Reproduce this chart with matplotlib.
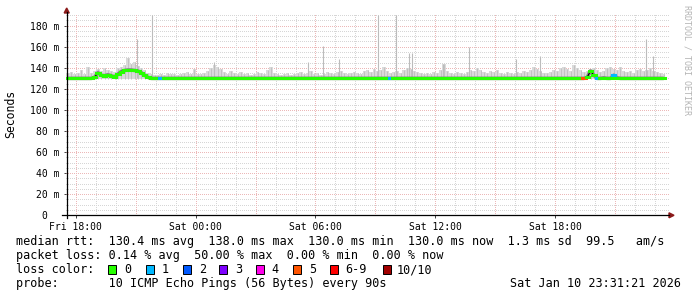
import datetime as dt
import matplotlib
matplotlib.use('Agg')
import matplotlib.pyplot as plt
import matplotlib.dates as mdates
from matplotlib.lines import Line2D
from matplotlib.patches import Polygon, Rectangle

# ---------------- data ----------------
start = dt.datetime(2026, 1, 9, 17, 31, 21)
end = dt.datetime(2026, 1, 10, 23, 31, 21)
step_minutes = 10

median_ms = [
    130.0, 130.0, 130.0, 130.0, 130.0, 130.0, 130.0, 130.0, 131.0, 135.5, 133.0, 132.5,
    133.5, 132.5, 131.5, 134.0, 136.5, 137.5, 138.0, 138.0, 137.5, 137.0, 135.5, 133.0,
    131.0, 130.0, 130.0, 130.0, 130.0, 130.0, 130.0, 130.0, 130.0, 130.0, 130.0, 130.0,
    130.0, 130.0, 130.0, 130.0, 130.0, 130.0, 130.0, 130.0, 130.0, 130.0, 130.0, 130.0,
    130.0, 130.0, 130.0, 130.0, 130.0, 130.0, 130.0, 130.0, 130.0, 130.0, 130.0, 130.0,
    130.0, 130.0, 130.0, 130.0, 130.0, 130.0, 130.0, 130.0, 130.0, 130.0, 130.0, 130.0,
    130.0, 130.0, 130.0, 130.0, 130.0, 130.0, 130.0, 130.0, 130.0, 130.0, 130.0, 130.0,
    130.0, 130.0, 130.0, 130.0, 130.0, 130.0, 130.0, 130.0, 130.0, 130.0, 130.0, 130.0,
    130.0, 130.0, 130.0, 130.0, 130.0, 130.0, 130.0, 130.0, 130.0, 130.0, 130.0, 130.0,
    130.0, 130.0, 130.0, 130.0, 130.0, 130.0, 130.0, 130.0, 130.0, 130.0, 130.0, 130.0,
    130.0, 130.0, 130.0, 130.0, 130.0, 130.0, 130.0, 130.0, 130.0, 130.0, 130.0, 130.0,
    130.0, 130.0, 130.0, 130.0, 130.0, 130.0, 130.0, 130.0, 130.0, 130.0, 130.0, 130.0,
    130.0, 130.0, 130.0, 130.0, 130.0, 130.0, 130.0, 130.0, 130.0, 130.0, 130.0, 130.0,
    131.0, 137.0, 133.0, 130.0, 130.0, 130.5, 130.0, 130.0, 133.0, 130.5, 130.0, 130.0,
    130.0, 130.0, 130.0, 130.0, 130.0, 130.0, 130.0, 130.0, 130.0, 130.0, 130.0, 130.0,
]

smoke_hi_ms = [
    135, 136, 134, 135, 138, 134, 141, 135, 137, 139, 137, 140,
    138, 137, 136, 140, 141, 143, 149, 144, 146, 142, 140, 138,
    135, 134, 133, 133, 134, 133, 135, 134, 134, 133, 134, 135,
    136, 134, 139, 134, 134, 135, 137, 140, 143, 141, 139, 136,
    134, 137, 135, 134, 136, 134, 135, 133, 134, 136, 135, 134,
    138, 141, 135, 134, 133, 134, 135, 133, 134, 135, 136, 134,
    135, 137, 134, 135, 133, 134, 136, 135, 134, 136, 137, 135,
    134, 135, 136, 135, 134, 137, 138, 136, 139, 137, 138, 141,
    137, 135, 136, 137, 135, 138, 140, 139, 137, 136, 135, 134,
    135, 134, 136, 135, 138, 144, 137, 135, 134, 136, 135, 134,
    136, 138, 137, 140, 138, 136, 135, 137, 136, 138, 135, 134,
    136, 135, 134, 136, 135, 137, 136, 138, 141, 139, 137, 135,
    135, 136, 138, 137, 140, 141, 139, 137, 143, 140, 138, 136,
    137, 139, 140, 138, 136, 137, 140, 141, 139, 138, 141, 137,
    136, 137, 135, 138, 139, 137, 138, 140, 137, 136, 135, 134,
]

loss_count = [0] * 180
loss_count[28] = 1
loss_count[97] = 1
loss_count[155] = 5
loss_count[159] = 1
loss_count[164] = 1

spike_hours = [3.54, 4.29, 7.40, 12.10, 12.85, 13.66, 15.61, 16.51, 17.18, 17.33,
               18.86, 20.18, 22.52, 23.72, 29.01, 29.36]
spike_ms = [167, 190, 146, 146, 161, 148, 190, 190, 154, 154,
            144, 160, 148, 151, 167, 151]

x_tick_times = [dt.datetime(2026, 1, 9, 18), dt.datetime(2026, 1, 10, 0),
                dt.datetime(2026, 1, 10, 6), dt.datetime(2026, 1, 10, 12),
                dt.datetime(2026, 1, 10, 18)]
x_tick_labels = ["Fri 18:00", "Sat 00:00", "Sat 06:00", "Sat 12:00", "Sat 18:00"]
y_ticks = [0, 20, 40, 60, 80, 100, 120, 140, 160, 180]
y_tick_labels = ["0  ", "20 m", "40 m", "60 m", "80 m", "100 m", "120 m", "140 m", "160 m", "180 m"]

loss_labels = ["0", "1", "2", "3", "4", "5", "6-9", "10/10"]
loss_colors = ["#26ff00", "#00b8ff", "#0059ff", "#7e00ff", "#ff00ea", "#ff5500", "#ff0000", "#a10000"]

legend_rows = [
    "median rtt:  130.4 ms avg  138.0 ms max  130.0 ms min  130.0 ms now  1.3 ms sd  99.5   am/s",
    "packet loss: 0.14 % avg  50.00 % max  0.00 % min  0.00 % now",
    "loss color:",
    "probe:       10 ICMP Echo Pings (56 Bytes) every 90s",
]
stamp = "Sat Jan 10 23:31:21 2026"

# ---------------- figure ----------------
W, H = 697, 297
MONO = "DejaVu Sans Mono"
fig = plt.figure(figsize=(W / 100, H / 100), dpi=100)
fig.patch.set_facecolor("white")

def fx(px):
    return px / W

def fy(py):
    return 1 - py / H

ax_left, ax_right, ax_bottom, ax_top = 66.3, 669.0, 215.3, 14.0
ax = fig.add_axes([fx(ax_left), fy(ax_bottom), (ax_right - ax_left) / W, (ax_bottom - ax_top) / H])
for s in ax.spines.values():
    s.set_visible(False)
ax.set_facecolor("white")

n = len(median_ms)
t_edges = [mdates.date2num(start + dt.timedelta(minutes=step_minutes * i)) for i in range(n + 1)]
t_mid = [(t_edges[i] + t_edges[i + 1]) / 2 for i in range(n)]

x_end = mdates.date2num(end) + (ax_right - 665.4) / 19.97 / 24
ax.set_xlim(t_edges[0], x_end)
ax.set_ylim(0, 191.1)

# grid (dotted, crisp, light)
dot = (0, (1, 1.6))
minor_col = "#d6d6d6"
major_col = "#ecb8b8"
for v in range(5, 195, 5):
    major = v % 20 == 0
    ax.axhline(v, color=major_col if major else minor_col, lw=0.72, ls=dot, zorder=0,
               antialiased=False)
hr = dt.datetime(2026, 1, 9, 18)
while mdates.date2num(hr) < x_end:
    major = hr.hour % 3 == 0
    ax.axvline(mdates.date2num(hr), color=major_col if major else minor_col, lw=0.72, ls=dot,
               zorder=0, antialiased=False)
    hr += dt.timedelta(hours=1)

# smoke
ax.stairs(smoke_hi_ms, t_edges, baseline=129.5, fill=True, color="#dadada", lw=0, zorder=2)
ax.vlines(t_mid, 129.5, smoke_hi_ms, color="#c2c2c2", lw=0.7, zorder=2)
spike_t = [mdates.date2num(start + dt.timedelta(hours=h)) for h in spike_hours]
ax.vlines(spike_t, 130, spike_ms, color="#bcbcbc", lw=0.8, zorder=2)

# median
ax.plot(t_mid, median_ms, color="#8a8a8a", lw=2.6, zorder=3, solid_capstyle="butt")
ax.plot(t_mid, median_ms, color="black", lw=0.8, zorder=4)

def loss_color(c):
    if c <= 5:
        return loss_colors[c]
    if c < 10:
        return loss_colors[6]
    return loss_colors[7]

seg_cols = [loss_color(c) for c in loss_count]
greens = ax.hlines(median_ms, t_edges[:-1], t_edges[1:], colors=seg_cols, lw=2.2, zorder=5)
greens.set_capstyle("projecting")

# ticks
ax.set_xticks([mdates.date2num(t) for t in x_tick_times])
ax.set_xticklabels(x_tick_labels, family=MONO, fontsize=7)
ax.set_yticks(y_ticks)
ax.set_yticklabels(y_tick_labels, family=MONO, fontsize=7)
ax.tick_params(axis="x", length=2, width=0.7, pad=2.5, color="#444444")
ax.tick_params(axis="y", length=1.5, width=0.7, pad=3.3, color="#444444")

# axis lines with arrows
ax_col = "black"
arrow_col = "#8b1a1a"
fig.add_artist(Line2D([fx(62), fx(669)], [fy(215.3), fy(215.3)], color=ax_col, lw=0.9, transform=fig.transFigure))
fig.add_artist(Line2D([fx(66.7), fx(66.7)], [fy(218), fy(12)], color=ax_col, lw=0.9, transform=fig.transFigure))
fig.add_artist(Polygon([(fx(669), fy(212.8)), (fx(674), fy(215.3)), (fx(669), fy(217.8))],
                       closed=True, color=arrow_col, transform=fig.transFigure))
fig.add_artist(Polygon([(fx(64.2), fy(13)), (fx(66.7), fy(8)), (fx(69.2), fy(13))],
                       closed=True, color=arrow_col, transform=fig.transFigure))

# labels
fig.text(fx(11), fy(114), "Seconds", rotation=90, ha="center", va="center", family=MONO, fontsize=8.3)
fig.text(fx(687.5), fy(5), "RRDTOOL / TOBI OETIKER", rotation=270, ha="center", va="top",
         family=MONO, fontsize=6, color="#b4b4b4")

# legend
baselines = [245.0, 259.5, 273.3, 287.3]
for txt, b in zip(legend_rows, baselines):
    fig.text(fx(16), fy(b), txt, ha="left", va="baseline", family=MONO, fontsize=8.5)
fig.text(fx(681), fy(baselines[3]), stamp, ha="right", va="baseline", family=MONO, fontsize=8.5)

box_x = [108.3, 145.7, 182.7, 219.3, 255.5, 292.7, 330.0, 382.7]
lab_x = [124.0, 161.7, 198.7, 235.5, 271.7, 309.0, 345.0, 396.7]
for c, lab, bx, lx in zip(loss_colors, loss_labels, box_x, lab_x):
    fig.add_artist(Rectangle((fx(bx), fy(273.5)), 8 / W, 8.5 / H, facecolor=c, edgecolor="black",
                             lw=0.7, transform=fig.transFigure))
    fig.text(fx(lx), fy(baselines[2]), lab, ha="left", va="baseline", family=MONO, fontsize=8.5)

fig.savefig("out.png", dpi=100, facecolor="white")
